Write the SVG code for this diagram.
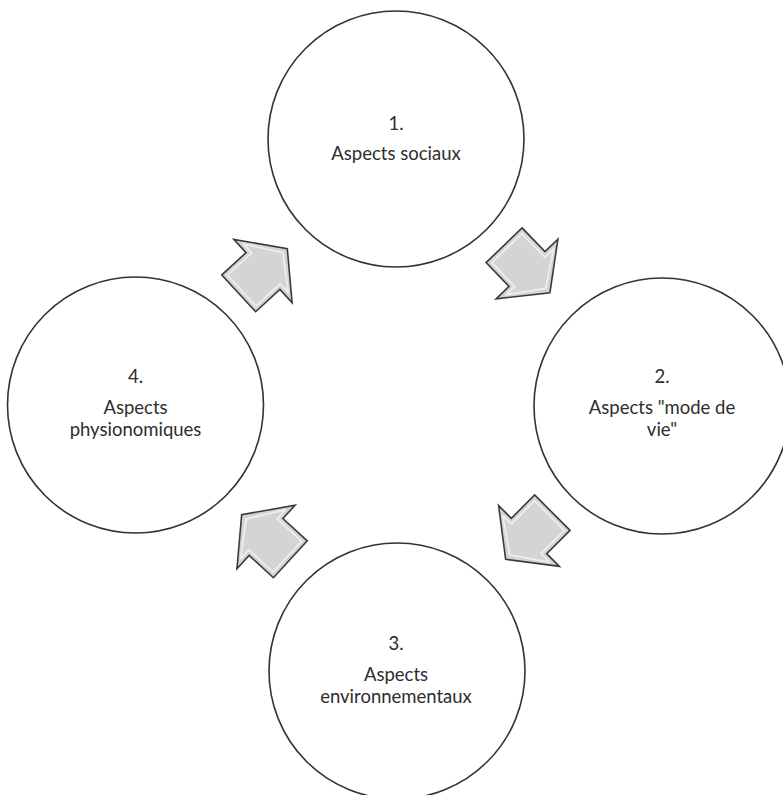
<svg xmlns="http://www.w3.org/2000/svg" width="783" height="795" viewBox="0 0 783 795">
  <style>
    .node circle { fill: #ffffff; stroke: #333333; stroke-width: 1.6; }
    .lbl { font-family: Lato, "Liberation Sans", sans-serif; font-size: 18.5px; fill: #2e2e2e; text-anchor: middle; }
  </style>
  <defs>
    <g id="arrowShape">
      <polygon fill="#d4d4d4" stroke="#3a3a3a" stroke-width="1.6" points="-33,-25 0,-25 0,-43 33,0 0,43 0,25 -33,25"/>
      <polygon fill="none" stroke="#ffffff" stroke-width="1.8" stroke-opacity="0.6" stroke-linejoin="round" points="-29,-21 4,-21 4,-33 27,0 4,33 4,21 -29,21"/>
    </g>
  </defs>
  <rect x="0" y="0" width="783" height="795" fill="#ffffff"/>

  <g id="connectors">
    <g class="arrow" id="arrow-1-2" transform="translate(527,269) rotate(46)"><use href="#arrowShape"/></g>
    <g class="arrow" id="arrow-2-3" transform="translate(529,536) rotate(135)"><use href="#arrowShape"/></g>
    <g class="arrow" id="arrow-3-4" transform="translate(266,537) rotate(-137.5)"><use href="#arrowShape"/></g>
    <g class="arrow" id="arrow-4-1" transform="translate(263,271) rotate(-42.6)"><use href="#arrowShape"/></g>
  </g>

  <g id="node-1" class="node">
    <circle cx="396" cy="139" r="128"/>
    <text class="lbl" x="396" y="130">1.</text>
    <text class="lbl" x="396" y="160">Aspects sociaux</text>
  </g>
  <g id="node-2" class="node">
    <circle cx="662" cy="406" r="128"/>
    <text class="lbl" x="662" y="383">2.</text>
    <text class="lbl" x="662" y="414">Aspects "mode de</text>
    <text class="lbl" x="662" y="436">vie"</text>
  </g>
  <g id="node-3" class="node">
    <circle cx="397" cy="671" r="128"/>
    <text class="lbl" x="396" y="650">3.</text>
    <text class="lbl" x="396" y="681">Aspects</text>
    <text class="lbl" x="396" y="703">environnementaux</text>
  </g>
  <g id="node-4" class="node">
    <circle cx="135.5" cy="405" r="128"/>
    <text class="lbl" x="135.5" y="383">4.</text>
    <text class="lbl" x="135.5" y="414">Aspects</text>
    <text class="lbl" x="135.5" y="436">physionomiques</text>
  </g>
</svg>
